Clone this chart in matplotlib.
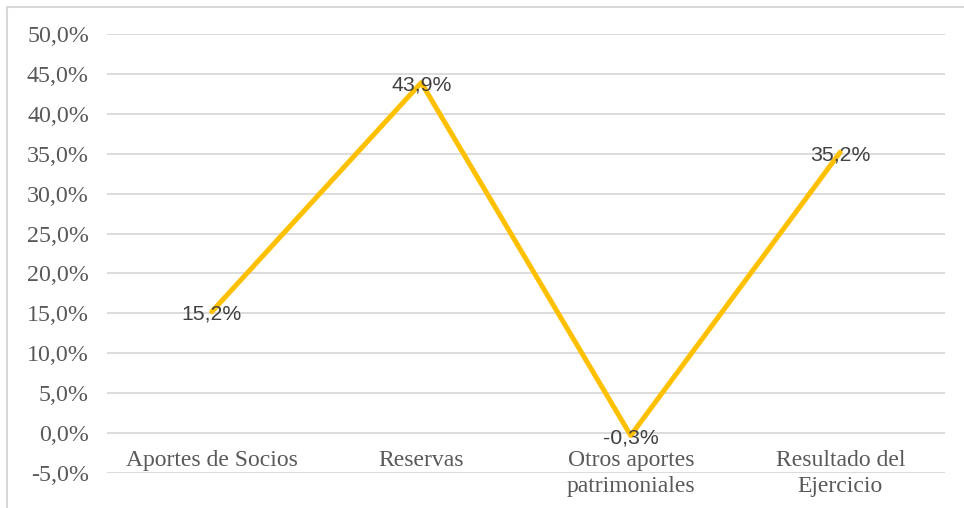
import matplotlib.pyplot as plt
from matplotlib.lines import Line2D

categories = ["Aportes de Socios", "Reservas", "Otros aportes\npatrimoniales", "Resultado del\nEjercicio"]
values = [15.2, 43.9, -0.3, 35.2]
y_ticks = [-5, 0, 5, 10, 15, 20, 25, 30, 35, 40, 45, 50]


def fmt_pct(v):
    return ("%.1f%%" % v).replace(".", ",")


fig = plt.figure(figsize=(9.64, 5.08), dpi=100)
ax = fig.add_axes([107 / 964, 1 - 473 / 508, 838 / 964, 439 / 508])

x_pos = list(range(len(categories)))
ax.plot(x_pos, values, color="#FFC000", linewidth=3.6, solid_capstyle="round", zorder=3)

# data labels centred on the points
for x, v in zip(x_pos, values):
    ax.text(x, v - 0.3, fmt_pct(v), ha="center", va="center", fontsize=15.3,
            family="Liberation Sans", color="#404040", zorder=4)

ax.set_xlim(-0.5, 3.5)
ax.set_ylim(-5, 50)
ax.set_yticks(y_ticks)
ax.set_yticklabels([fmt_pct(t) for t in y_ticks], family="Liberation Serif",
                   fontsize=17.3, color="#595959")
ax.tick_params(axis="y", length=0, pad=13)
ax.set_xticks([])
ax.grid(axis="y", color="#d9d9d9", linewidth=1.3)
ax.set_axisbelow(True)
for s in ax.spines.values():
    s.set_visible(False)

# category labels sit just under the 0% line
for x, c in zip(x_pos, categories):
    ax.annotate(c, (x, 0), xytext=(0, -12.5), textcoords="offset points",
                ha="center", va="top", family="Liberation Serif", fontsize=17,
                color="#595959", linespacing=1.3)

# chart border (only left and top show in the crop)
fig.add_artist(Line2D([7 / 964, 7 / 964], [-0.1, 1 - 7 / 508], transform=fig.transFigure,
                      color="#d9d9d9", linewidth=1.5))
fig.add_artist(Line2D([7 / 964, 1.1], [1 - 7 / 508, 1 - 7 / 508], transform=fig.transFigure,
                      color="#d9d9d9", linewidth=1.5))

fig.savefig("out.png", dpi=100, facecolor="white")
